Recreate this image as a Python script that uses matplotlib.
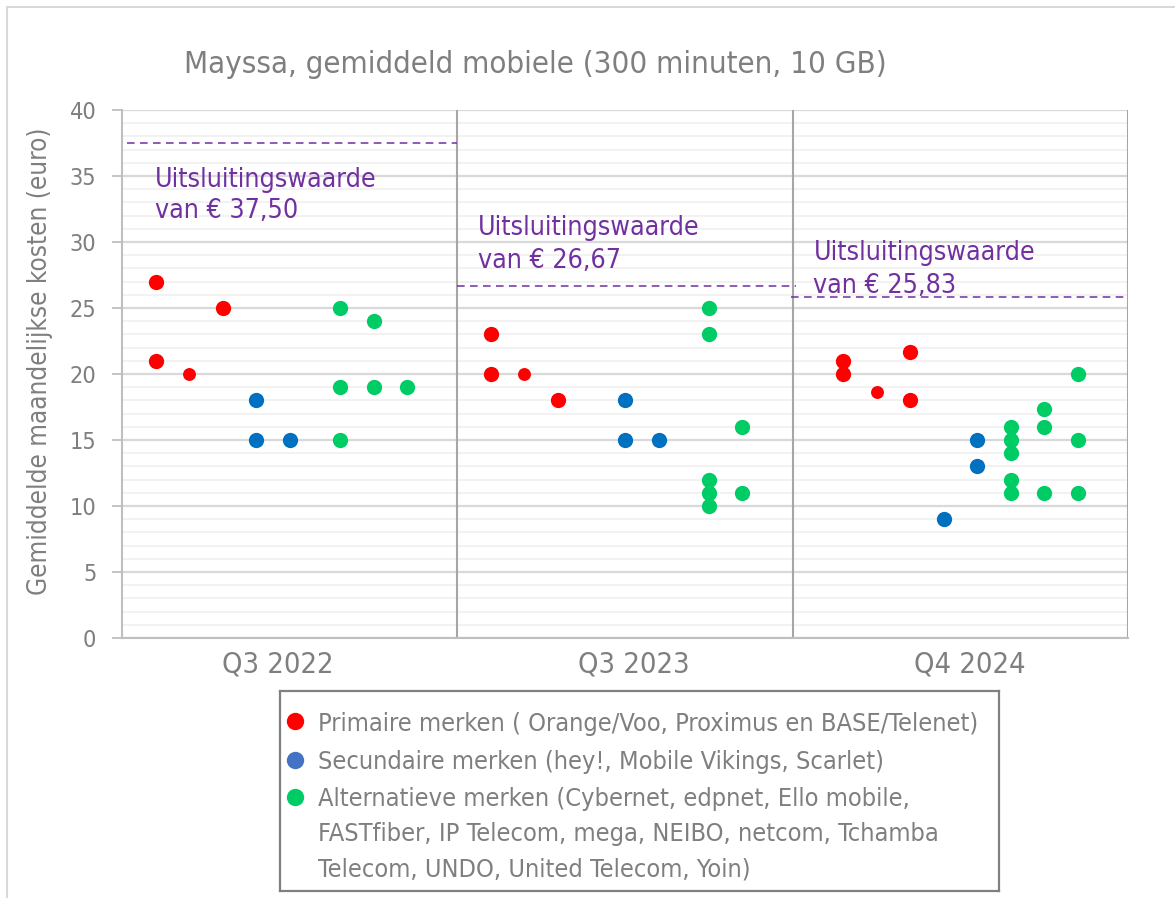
import matplotlib
matplotlib.use("Agg")
import matplotlib.pyplot as plt
from matplotlib import font_manager
from matplotlib.font_manager import FontProperties
from matplotlib.patches import Rectangle

# ---------------- data ----------------
periods = ["Q3 2022", "Q3 2023", "Q4 2024"]
thresholds = [37.50, 26.67, 25.83]
threshold_labels = ["Uitsluitingswaarde\nvan € 37,50",
                    "Uitsluitingswaarde\nvan € 26,67",
                    "Uitsluitingswaarde\nvan € 25,83"]

# primary brands (period index, slot in period, value)
primary_period = [0, 0, 0, 1, 1, 1, 2, 2, 2, 2]
primary_slot   = [1, 1, 3, 1, 1, 3, 1.5, 1.5, 3.5, 3.5]
primary_value  = [27, 21, 25, 23, 20, 18, 21, 20, 21.65, 18]
# primary brands, small markers
primary_s_period = [0, 1, 2]
primary_s_slot   = [2, 2, 2.5]
primary_s_value  = [20, 20, 18.6]
# secondary brands
secondary_period = [0, 0, 0, 1, 1, 1, 2, 2, 2]
secondary_slot   = [4, 4, 5, 5, 5, 6, 4.5, 5.5, 5.5]
secondary_value  = [18, 15, 15, 18, 15, 15, 9, 15, 13]
# alternative brands
alt_period = [0, 0, 0, 0, 0, 0,
              1, 1, 1, 1, 1, 1, 1,
              2, 2, 2, 2, 2, 2, 2, 2, 2, 2, 2]
alt_slot   = [6.5, 6.5, 6.5, 7.5, 7.5, 8.5,
              7.5, 7.5, 7.5, 7.5, 7.5, 8.5, 8.5,
              6.5, 6.5, 6.5, 6.5, 6.5, 7.5, 7.5, 7.5, 8.5, 8.5, 8.5]
alt_value  = [25, 19, 15, 24, 19, 19,
              25, 23, 12, 11, 10, 16, 11,
              16, 15, 14, 12, 11, 17.35, 16, 11, 20, 15, 11]

legend_labels = ["Primaire merken ( Orange/Voo, Proximus en BASE/Telenet)",
                 "Secundaire merken (hey!, Mobile Vikings, Scarlet)",
                 "Alternatieve merken (Cybernet, edpnet, Ello mobile,\n"
                 "FASTfiber, IP Telecom, mega, NEIBO, netcom, Tchamba\n"
                 "Telecom, UNDO, United Telecom, Yoin)"]
title = "Mayssa, gemiddeld mobiele (300 minuten, 10 GB)"
ylabel = "Gemiddelde maandelijkse kosten (euro)"

# ---------------- styling ----------------
RED, BLUE, GREEN, BLUE_LEG = "#FF0000", "#0070C0", "#00CC66", "#4472C4"
PURPLE = "#7030A0"
GREY_TXT = "#7F7F7F"

fp_c = FontProperties(family="DejaVu Sans", stretch="condensed")
fpath = font_manager.findfont(fp_c)
FAMILY = "DejaVu Sans"
STRETCH = "condensed" if "Condensed" in fpath else "normal"
plt.rcParams["font.family"] = [FAMILY]
plt.rcParams["font.stretch"] = STRETCH

W, H = 1175, 898
fig = plt.figure(figsize=(W / 100, H / 100), dpi=100)
renderer = fig.canvas.get_renderer()


def size_for(text, target_px, rot=0):
    t = fig.text(0, 0, text, fontsize=20, rotation=rot)
    bb = t.get_window_extent(renderer)
    t.remove()
    w = bb.height if rot else bb.width
    return 20 * target_px / w


def fx(px):
    return px / W


def fy(py):
    return 1 - py / H


# outer chart frame (left/top visible)
fig.add_artist(Rectangle((fx(7), fy(1000)), fx(1300), (1000 - 7) / H,
                         transform=fig.transFigure, fill=False,
                         edgecolor="#D9D9D9", lw=1.5))

ax = fig.add_axes([fx(122), fy(638), fx(1128 - 122), (638 - 110) / H])
ax.set_xlim(0, 30)
ax.set_ylim(0, 40)

# grid
for v in range(0, 41):
    if v % 5 == 0:
        ax.axhline(v, color="#D9D9D9", lw=1.6, zorder=1)
    else:
        ax.axhline(v, color="#F0F0F0", lw=1.2, zorder=0.5)
for xv in [10, 20, 30]:
    ax.axvline(xv, color="#A6A6A6", lw=1.5, zorder=1.5)

for s in ["top", "right"]:
    ax.spines[s].set_visible(False)
ax.spines["left"].set_color("#BFBFBF")
ax.spines["left"].set_linewidth(1.5)
ax.spines["bottom"].set_color("#BFBFBF")
ax.spines["bottom"].set_linewidth(1.5)

# threshold dashed lines
seg = [(0.15, 10), (10, 20.1), (19.95, 30)]
for i, thr in enumerate(thresholds):
    ax.hlines(thr, seg[i][0], seg[i][1], colors=PURPLE, lw=1.1,
              linestyles=(0, (5, 3.5)), zorder=2)

# threshold labels
ann_fs = size_for("Uitsluitingswaarde", 213) * 1.04
ann_pos = [(0.98, 34.19, 31.82), (10.61, 30.53, 28.05), (20.62, 28.64, 26.16)]
for i, lab in enumerate(threshold_labels):
    l1, l2 = lab.split("\n")
    x0, b1, b2 = ann_pos[i]
    ax.text(x0, b1, l1, color=PURPLE, fontsize=ann_fs, va="baseline", ha="left", zorder=3)
    ax.text(x0, b2, l2, color=PURPLE, fontsize=ann_fs, va="baseline", ha="left", zorder=3)


def xs(periods_, slots_):
    return [p * 10 + s for p, s in zip(periods_, slots_)]


BIG, SMALL = 11, 9.3
ax.plot(xs(primary_period, primary_slot), primary_value, "o", color=RED,
        ms=BIG, mew=0, zorder=4, clip_on=False)
ax.plot(xs(primary_s_period, primary_s_slot), primary_s_value, "o", color=RED,
        ms=SMALL, mew=0, zorder=4, clip_on=False)
ax.plot(xs(secondary_period, secondary_slot), secondary_value, "o", color=BLUE,
        ms=BIG, mew=0, zorder=4, clip_on=False)
ax.plot(xs(alt_period, alt_slot), alt_value, "o", color=GREEN,
        ms=BIG, mew=0, zorder=4, clip_on=False)

# axes ticks
ytick_fs = size_for("40", 24) * 1.12
ax.set_yticks(range(0, 41, 5))
ax.tick_params(axis="y", length=7, width=1.3, color="#BFBFBF", pad=11.5,
               labelsize=ytick_fs, labelcolor=GREY_TXT)
xtick_fs = size_for("Q3 2022", 107) * 1.04
ax.set_xticks([4.65, 15.27, 25.29])
ax.set_xticklabels(periods)
ax.tick_params(axis="x", length=0, pad=9, labelsize=xtick_fs, labelcolor=GREY_TXT)

# y label
yl_fs = size_for(ylabel, 467, rot=90)
fig.text(fx(40), fy(361.5), ylabel, rotation=90, ha="center", va="center",
         fontsize=yl_fs, color=GREY_TXT)

# title
t_fs = size_for(title, 704)
fig.text(fx(184), fy(73.3), title, ha="left", va="baseline", fontsize=t_fs,
         color=GREY_TXT)

# legend (drawn in its own axes, pixel coordinates)
lax = fig.add_axes([fx(280), fy(891), fx(999 - 280), (891 - 691) / H])
lax.set_xlim(280, 999)
lax.set_ylim(891, 691)
lax.set_xticks([])
lax.set_yticks([])
for s in lax.spines.values():
    s.set_color("#808080")
    s.set_linewidth(1.6)
leg_fs = size_for(legend_labels[0], 662)
leg_px = leg_fs * 100 / 72
line_y = [722, 760, 797, 832, 867]
marker_y = [721, 760, 797]
leg_colors = [RED, BLUE_LEG, GREEN]
li = 0
for i, (lab, c) in enumerate(zip(legend_labels, leg_colors)):
    lax.plot([295], [marker_y[i]], "o", color=c, ms=12.5, mew=0)
    for line in lab.split("\n"):
        lax.text(318, line_y[li] + 0.36 * leg_px, line, ha="left", va="baseline",
                 fontsize=leg_fs, color=GREY_TXT)
        li += 1

fig.savefig("out.png", dpi=100)
